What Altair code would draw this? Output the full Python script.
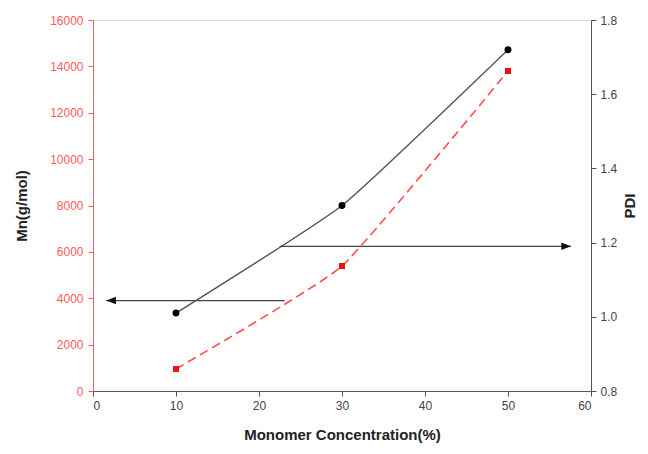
import altair as alt
import pandas as pd

# ---- data ----
conc = [10, 30, 50]                 # Monomer Concentration (%)
mn = [950, 5390, 13800]             # Mn (g/mol), left axis, red dashed
pdi = [1.01, 1.30, 1.72]            # PDI, right axis, black solid

# annotation arrows (start x, tip x, level)
mn_arrow_x = [23.1, 1.6]
mn_arrow_level = [3900]
pdi_arrow_x = [22.5, 57.6]
pdi_arrow_level = [1.19]

mn_ticks = [0, 2000, 4000, 6000, 8000, 10000, 12000, 14000, 16000]
pdi_ticks = [0.8, 1.0, 1.2, 1.4, 1.6, 1.8]
x_ticks = [0, 10, 20, 30, 40, 50, 60]

df = pd.DataFrame({"conc": conc, "Mn": mn, "PDI": pdi})
mn_arrow = pd.DataFrame({"x": [mn_arrow_x[0]], "x2": [mn_arrow_x[1]], "y": mn_arrow_level})
mn_head = pd.DataFrame({"x": [mn_arrow_x[1]], "y": mn_arrow_level})
pdi_arrow = pd.DataFrame({"x": [pdi_arrow_x[0]], "x2": [pdi_arrow_x[1]], "y": pdi_arrow_level})
pdi_head = pd.DataFrame({"x": [pdi_arrow_x[1]], "y": pdi_arrow_level})

FONT = "Liberation Sans"
RED_AX = "#ff5a5a"

xscale = alt.Scale(domain=[0, 60], nice=False)
xaxis = alt.Axis(values=x_ticks, title="Monomer Concentration(%)", grid=False,
                 domainColor="#555", tickColor="#555", labelColor="#444",
                 labelFontSize=12, titleFontSize=15, titleFontWeight="bold",
                 titleColor="#222", tickSize=5, labelPadding=4, titlePadding=16,
                 labelFont=FONT, titleFont=FONT)

mn_scale = alt.Scale(domain=[0, 16000], nice=False)
pdi_scale = alt.Scale(domain=[0.8, 1.8], nice=False)

mn_axis = alt.Axis(orient="left", values=mn_ticks, format="d", title="Mn(g/mol)", grid=False,
                   domainColor=RED_AX, tickColor=RED_AX, labelColor=RED_AX,
                   labelFontSize=12, titleFontSize=15, titleFontWeight="bold",
                   titleColor="#222", tickSize=5, labelPadding=5, titlePadding=20,
                   labelFont=FONT, titleFont=FONT)
pdi_axis = alt.Axis(orient="right", values=pdi_ticks, format=".1f", title="PDI", grid=False,
                    domainColor="#555", tickColor="#555", labelColor="#444",
                    labelFontSize=12, titleFontSize=15, titleFontWeight="bold",
                    titleColor="#222", tickSize=5, labelPadding=4, titlePadding=21,
                    titleAngle=270, labelFont=FONT, titleFont=FONT)

X = alt.X("conc:Q", scale=xscale, axis=xaxis)

mn_line = alt.Chart(df).mark_line(color="#ff4d4d", strokeWidth=1.6, strokeDash=[9, 5],
                                  interpolate="cardinal", tension=0.6).encode(
    x=X, y=alt.Y("Mn:Q", scale=mn_scale, axis=mn_axis))
mn_pts = alt.Chart(df).mark_point(shape="square", filled=True, size=36, color="#ee1111",
                                  opacity=1).encode(
    x=X, y=alt.Y("Mn:Q", scale=mn_scale, axis=mn_axis))
mn_arr = alt.Chart(mn_arrow).mark_rule(color="#444", strokeWidth=1.3).encode(
    x=alt.X("x:Q", scale=xscale), x2="x2:Q",
    y=alt.Y("y:Q", scale=mn_scale, axis=mn_axis))
mn_arr_head = alt.Chart(mn_head).mark_point(shape="M0,0 L1,-0.38 L1,0.38 Z", filled=True,
                                            size=380, color="#111", opacity=1).encode(
    x=alt.X("x:Q", scale=xscale), y=alt.Y("y:Q", scale=mn_scale, axis=mn_axis))

pdi_line = alt.Chart(df).mark_line(color="#555", strokeWidth=1.4,
                                   interpolate="cardinal", tension=0.6).encode(
    x=X, y=alt.Y("PDI:Q", scale=pdi_scale, axis=pdi_axis))
pdi_pts = alt.Chart(df).mark_point(shape="circle", filled=True, size=48, color="#000",
                                   opacity=1).encode(
    x=X, y=alt.Y("PDI:Q", scale=pdi_scale, axis=pdi_axis))
pdi_arr = alt.Chart(pdi_arrow).mark_rule(color="#444", strokeWidth=1.3).encode(
    x=alt.X("x:Q", scale=xscale), x2="x2:Q",
    y=alt.Y("y:Q", scale=pdi_scale, axis=pdi_axis))
pdi_arr_head = alt.Chart(pdi_head).mark_point(shape="M0,0 L-1,-0.38 L-1,0.38 Z", filled=True,
                                              size=380, color="#111", opacity=1).encode(
    x=alt.X("x:Q", scale=xscale), y=alt.Y("y:Q", scale=pdi_scale, axis=pdi_axis))

left = alt.layer(mn_line, mn_pts, mn_arr, mn_arr_head)
right = alt.layer(pdi_line, pdi_pts, pdi_arr, pdi_arr_head)

chart = alt.layer(left, right).resolve_scale(y="independent").properties(
    width=498, height=371,
    autosize=alt.AutoSizeParams(type="none"),
    padding={"left": 85, "top": 12, "right": 49, "bottom": 55},
).configure_view(stroke="#666", strokeWidth=1).configure(background="white")

chart.save("out.html", embed_options={"renderer": "svg", "actions": False})
